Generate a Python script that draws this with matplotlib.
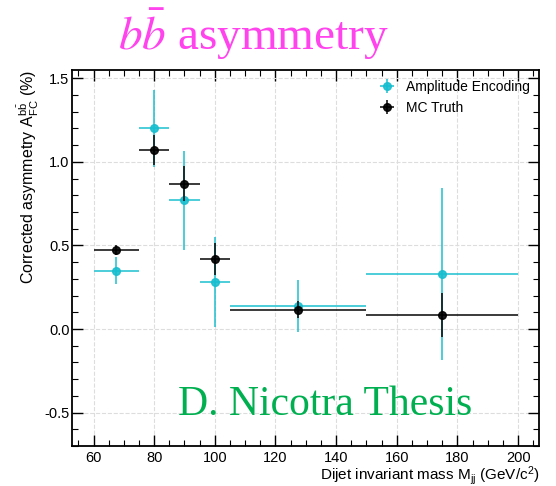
import numpy as np
import matplotlib
matplotlib.use('Agg')
from matplotlib import pyplot as plt
from matplotlib.ticker import MultipleLocator, FormatStrFormatter

# mass bins (GeV/c^2)
bin_lo = [60, 75, 85, 95, 105, 150]
bin_hi = [75, 85, 95, 105, 150, 200]
bin_center = [67.5, 80, 90, 100, 127.5, 175]

# Amplitude Encoding
ae_val = [0.35, 1.20, 0.77, 0.28, 0.14, 0.33]
ae_err = [0.08, 0.23, 0.295, 0.27, 0.155, 0.515]

# MC Truth
mc_val = [0.47, 1.07, 0.87, 0.42, 0.115, 0.085]
mc_err = [0.03, 0.09, 0.105, 0.095, 0.05, 0.13]

plt.rcParams['font.family'] = ['Liberation Sans', 'DejaVu Sans']
plt.rcParams['mathtext.fontset'] = 'custom'
plt.rcParams['mathtext.rm'] = 'Liberation Sans'
plt.rcParams['mathtext.it'] = 'Liberation Sans'
plt.rcParams['axes.unicode_minus'] = False

fig = plt.figure(figsize=(5.56, 4.86), dpi=100)
ax = fig.add_axes([0.130, 0.0823, 0.840, 0.7737])

x = np.array(bin_center)
xerr = [x - np.array(bin_lo), np.array(bin_hi) - x]

ax.errorbar(x, ae_val, xerr=xerr, yerr=ae_err, fmt='o', color='#17becf',
            ms=5.5, lw=1.2, capsize=0, alpha=0.9, label='Amplitude Encoding', zorder=3)
ax.errorbar(x, mc_val, xerr=xerr, yerr=mc_err, fmt='o', color='black',
            ms=5.5, lw=1.2, capsize=0, alpha=0.9, label='MC Truth', zorder=4)

ax.set_xlim(53, 207)
ax.set_ylim(-0.70, 1.55)
ax.xaxis.set_major_locator(MultipleLocator(20))
ax.xaxis.set_minor_locator(MultipleLocator(5))
ax.yaxis.set_major_locator(MultipleLocator(0.5))
ax.yaxis.set_minor_locator(MultipleLocator(0.1))
ax.yaxis.set_major_formatter(FormatStrFormatter('%.1f'))
ax.tick_params(which='both', direction='in', top=True, right=True, labelsize=10.5)
ax.tick_params(which='major', length=8, width=1)
ax.tick_params(which='minor', length=4, width=0.8)
ax.tick_params(axis='y', which='major', pad=2)
for s in ax.spines.values():
    s.set_linewidth(1.3)

ax.grid(True, which='major', linestyle='--', color='#dddddd', linewidth=0.8)
ax.set_axisbelow(True)

ax.set_xlabel(r'Dijet invariant mass M$_{\mathrm{jj}}$ (GeV/c$^{2}$)', fontsize=11,
              ha='right')
ax.xaxis.set_label_coords(1.0, -0.048)
ax.set_ylabel(r'Corrected asymmetry A$_{\mathrm{FC}}^{\mathrm{b\bar{b}}}$ (%)', fontsize=11.5,
              loc='top', labelpad=2)

ax.legend(loc='upper right', frameon=False, fontsize=10, handletextpad=0.6,
          borderaxespad=0.3, handlelength=1.5)

fig.text(0.455, 0.93, r'$b\bar{b}$ asymmetry', color='#ff44ee', fontsize=34,
         ha='center', va='center', family='Liberation Serif', math_fontfamily='stix')
fig.text(0.32, 0.147, 'D. Nicotra Thesis', color='#00b050', fontsize=30,
         ha='left', va='baseline', family='Liberation Serif')

fig.savefig('out.png', dpi=100)
